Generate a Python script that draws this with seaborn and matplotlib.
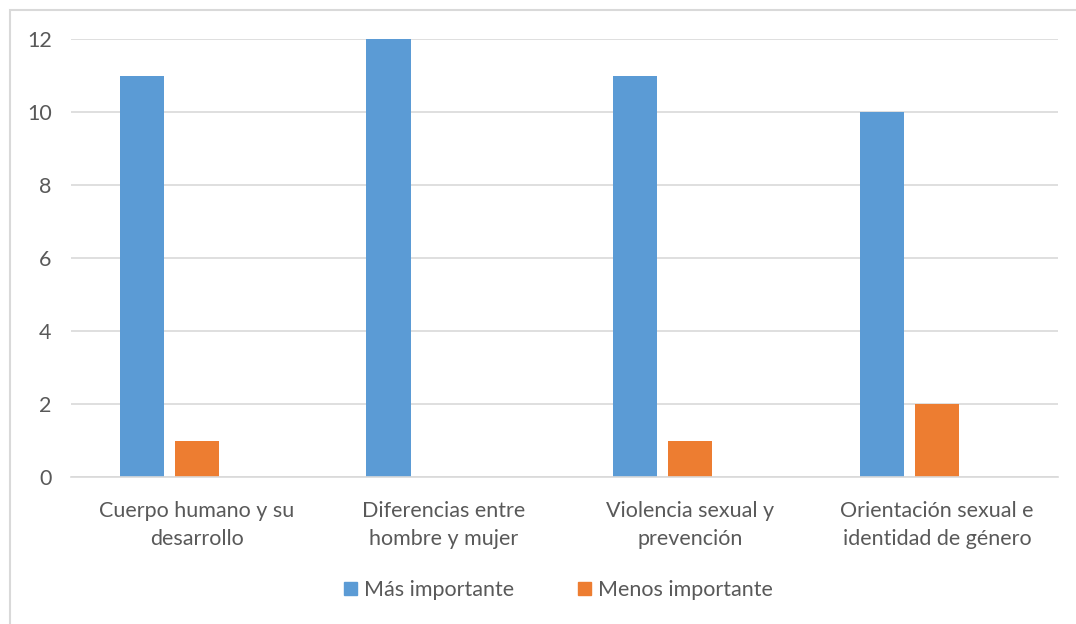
import pandas as pd
import matplotlib
matplotlib.use("Agg")
import matplotlib.pyplot as plt
import seaborn as sns
from matplotlib.patches import Rectangle, Patch

categorias = ["Cuerpo humano y su\ndesarrollo",
              "Diferencias entre\nhombre y mujer",
              "Violencia sexual y\nprevención",
              "Orientación sexual e\nidentidad de género"]
mas_importante = [11, 12, 11, 10]
menos_importante = [1, 0, 1, 2]
# Excel leaves room for a third (empty) series in every group
serie_vacia = [0, 0, 0, 0]
series = ["Más importante", "Menos importante", "Serie 3"]
colores = ["#5b9bd5", "#ed7d31", "#ffffff"]

df = pd.DataFrame({
    "categoria": categorias * 3,
    "serie": [series[0]] * 4 + [series[1]] * 4 + [series[2]] * 4,
    "valor": mas_importante + menos_importante + serie_vacia,
})

sns.set_theme(style="white")
plt.rcParams["font.family"] = ["Lato", "DejaVu Sans"]

fig = plt.figure(figsize=(10.76, 6.24), dpi=100)
ax = fig.add_axes([71 / 1076, 1 - 477 / 624, (1058 - 71) / 1076, (477 - 39) / 624])

sns.barplot(data=df, x="categoria", y="valor", hue="serie", hue_order=series,
            palette=colores, saturation=1, width=0.67, gap=0.2, linewidth=0,
            ax=ax, legend=False)

ax.set_xlim(-0.51, 3.49)
ax.set_ylim(0, 12)
ax.set_yticks(range(0, 13, 2))
ax.grid(axis="y", color="#d9d9d9", linewidth=1.2)
ax.set_axisbelow(True)
for s in ["top", "right", "left"]:
    ax.spines[s].set_visible(False)
ax.spines["bottom"].set_color("#d9d9d9")
ax.spines["bottom"].set_linewidth(1.2)
ax.set_xlabel("")
ax.set_ylabel("")
ax.tick_params(axis="y", length=0, pad=14, labelsize=15.5, labelcolor="#595959")
ax.tick_params(axis="x", length=0, pad=17, labelsize=15.5, labelcolor="#595959")
for t in ax.get_xticklabels():
    t.set_linespacing(1.55)

handles = [Patch(color=colores[0]), Patch(color=colores[1])]
fig.legend(handles, series[:2], loc="center", bbox_to_anchor=(0.519, 1 - 590 / 624),
           ncol=2, frameon=False, fontsize=15.5, labelcolor="#595959",
           handlelength=0.6, handleheight=0.6, handletextpad=0.3, columnspacing=3.0)

fig.patches.append(Rectangle((10 / 1076, -0.1), 1.2, 1 - 10 / 624 + 0.1,
                             transform=fig.transFigure, fill=False,
                             edgecolor="#d9d9d9", linewidth=1.5))

fig.savefig("out.png", dpi=100)
